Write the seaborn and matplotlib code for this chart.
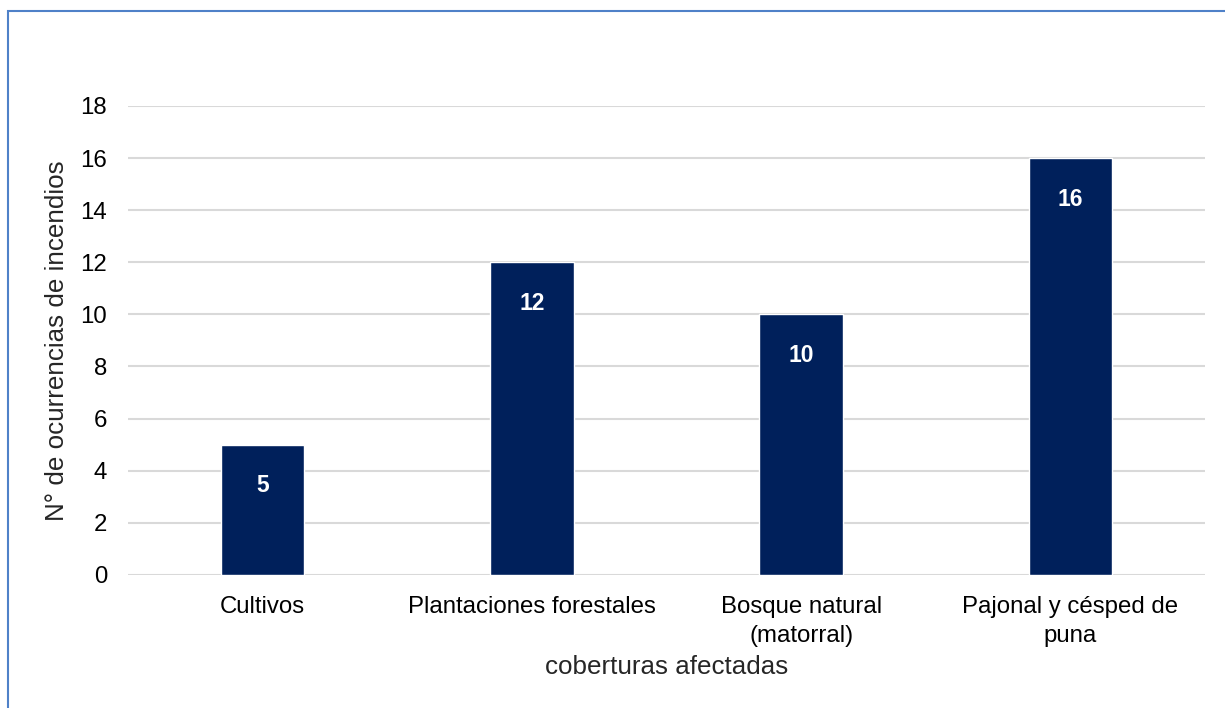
import matplotlib
matplotlib.use('Agg')
import matplotlib.pyplot as plt
import seaborn as sns
import pandas as pd
from matplotlib.patches import Rectangle

categorias = ['Cultivos', 'Plantaciones forestales', 'Bosque natural\n(matorral)',
              'Pajonal y césped de\npuna']
ocurrencias = [5, 12, 10, 16]
y_ticks = [0, 2, 4, 6, 8, 10, 12, 14, 16, 18]

df = pd.DataFrame({'cobertura': categorias, 'ocurrencias': ocurrencias})

sns.set_style('white')
plt.rcParams['font.family'] = ['Liberation Sans', 'DejaVu Sans']

fig = plt.figure(figsize=(12.25, 7.08), dpi=100)
ax = fig.add_axes([0.1045, 0.188, 0.8792, 0.6623])

sns.barplot(data=df, x='cobertura', y='ocurrencias', color='#00205B',
            width=0.31, saturation=1, ax=ax, zorder=3)

ax.set_ylim(0, 18)
ax.set_xlim(-0.5, len(categorias) - 0.5)
ax.set_yticks(y_ticks)
ax.yaxis.grid(True, color='#D9D9D9', linewidth=1.5, zorder=0)
ax.set_axisbelow(True)
for s in ax.spines.values():
    s.set_visible(False)
ax.tick_params(axis='both', length=0, labelsize=17.3, colors='#000000')
ax.tick_params(axis='x', pad=15)
ax.tick_params(axis='y', pad=15)
for lbl in ax.get_xticklabels():
    lbl.set_linespacing(1.4)

for p in ax.patches:
    h = p.get_height()
    ax.annotate(f'{int(h)}', xy=(p.get_x() + p.get_width() / 2, h),
                xytext=(0, -41), textcoords='offset pixels',
                ha='center', va='center', color='white', fontsize=16.5, fontweight='bold')

ax.set_xlabel('coberturas afectadas', fontsize=18.7, labelpad=6)
ax.set_ylabel('N° de ocurrencias de incendios', fontsize=18.7, labelpad=8)

# marco del gráfico (solo visible arriba e izquierda)
fig.patches.append(Rectangle((8 / 1225, -0.1), 1.2, 1 - 11 / 708 + 0.1,
                             transform=fig.transFigure, fill=False,
                             edgecolor='#4F81C8', linewidth=1.5))

fig.savefig('out.png', dpi=100)
